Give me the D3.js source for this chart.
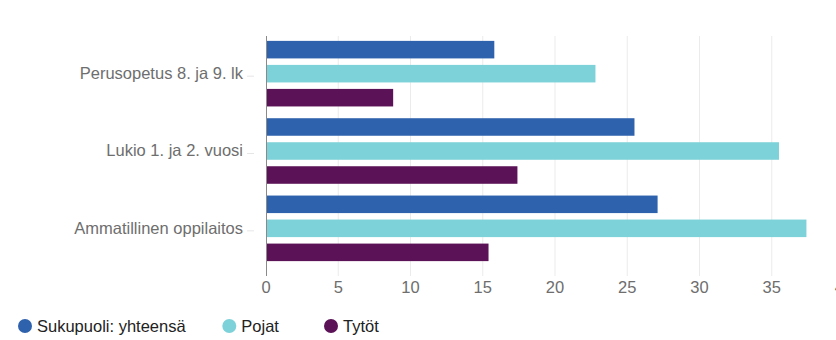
<!DOCTYPE html>
<html><head><meta charset="utf-8">
<script src="https://cdn.jsdelivr.net/npm/d3@7"></script>
<style>
html,body{margin:0;padding:0;background:#fff;}
svg{display:block;font-family:"Liberation Sans",Arial,sans-serif;}
</style></head>
<body>
<svg id="c" width="836" height="340"></svg>
<script>
const categories = ["Perusopetus 8. ja 9. lk", "Lukio 1. ja 2. vuosi", "Ammatillinen oppilaitos"];
const seriesNames = ["Sukupuoli: yhteensä", "Pojat", "Tytöt"];
const yhteensa = [15.8, 25.5, 27.1];
const pojat = [22.8, 35.5, 37.4];
const tytot = [8.8, 17.4, 15.4];
const xTicks = [0, 5, 10, 15, 20, 25, 30, 35, 40];
const colors = ["#2e62ad", "#7dd2d9", "#5b1256"];

const seriesValues = [yhteensa, pojat, tytot];
const svg = d3.select("#c");

const x = d3.scaleLinear().domain([0, 40]).range([266, 844]);
const y0 = d3.scaleBand().domain(categories).range([35, 267]);
const y1 = d3.scaleBand().domain(seriesNames).range([0, y0.bandwidth()]).paddingInner(0.27).paddingOuter(0.245);

const gridTop = 36, gridBottom = 276;

// gridlines
svg.append("g").selectAll("line").data(xTicks.filter(d => d > 0)).join("line")
  .attr("x1", d => x(d)).attr("x2", d => x(d))
  .attr("y1", gridTop).attr("y2", gridBottom)
  .attr("stroke", "#ebebeb").attr("stroke-width", 1);

// bars
const g = svg.append("g");
categories.forEach((cat, ci) => {
  seriesNames.forEach((s, si) => {
    g.append("rect")
      .attr("x", x(0))
      .attr("y", y0(cat) + y1(s))
      .attr("width", x(seriesValues[si][ci]) - x(0))
      .attr("height", y1.bandwidth())
      .attr("fill", colors[si]);
  });
});

// y axis line
svg.append("line").attr("x1", x(0) + 0.5).attr("x2", x(0) + 0.5)
  .attr("y1", gridTop).attr("y2", gridBottom)
  .attr("stroke", "#8a8a8a").attr("stroke-width", 1);

// category labels + ticks
svg.append("g").selectAll("text").data(categories).join("text")
  .attr("x", 243).attr("y", d => y0(d) + y0.bandwidth() / 2 + 1)
  .attr("text-anchor", "end").attr("dominant-baseline", "middle")
  .attr("fill", "#6e6e6e").attr("font-size", 16.5)
  .text(d => d);
svg.append("g").selectAll("line").data(categories).join("line")
  .attr("x1", 247).attr("x2", 254)
  .attr("y1", d => y0(d) + y0.bandwidth() / 2 + 2.5).attr("y2", d => y0(d) + y0.bandwidth() / 2 + 2.5)
  .attr("stroke", "#e6e6e6");

// x tick labels
svg.append("g").selectAll("text").data(xTicks).join("text")
  .attr("x", d => x(d)).attr("y", 293)
  .attr("text-anchor", "middle")
  .attr("fill", "#6e6e6e").attr("font-size", 16.5)
  .text(d => d);

// legend
const legendPos = [25, 229.3, 331];
const lg = svg.append("g");
seriesNames.forEach((s, i) => {
  lg.append("circle").attr("cx", legendPos[i]).attr("cy", 326).attr("r", 7).attr("fill", colors[i]);
  lg.append("text").attr("x", legendPos[i] + 12).attr("y", 332)
    .attr("fill", "#222").attr("font-size", 16.5).text(s);
});
</script>
</body></html>
